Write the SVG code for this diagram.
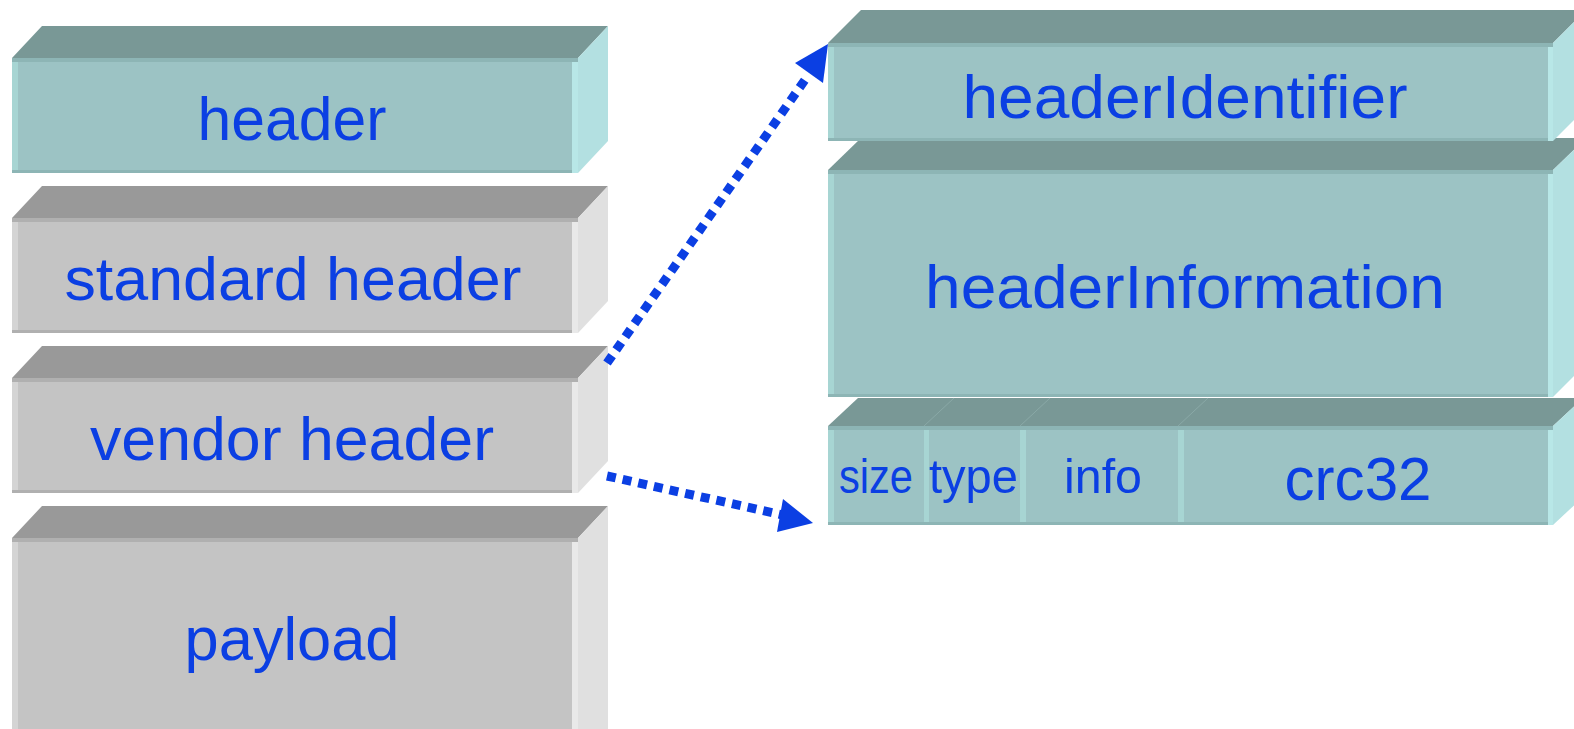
<svg xmlns="http://www.w3.org/2000/svg" width="1574" height="729" viewBox="0 0 1574 729">
<style>
.tt{fill:#799896}.tf{fill:#9cc3c4}.ts{fill:#b3e0e1}.tts{fill:#8db5b5}.tls{fill:#a7d5d3}.trs{fill:#b8e7e7}
.gt{fill:#999999}.gf{fill:#c4c4c4}.gs{fill:#e0e0e0}.gts{fill:#b0b0b0}.gls{fill:#d4d4d4}.grs{fill:#e9e9e9}
.lbl{font-family:"Liberation Sans",Arial,sans-serif;fill:#0b3fe3;text-anchor:middle}
.big{font-size:62px}.small{font-size:49px}
.dot{fill:none;stroke:#0b3fe3;stroke-width:9;stroke-dasharray:9 7}
.head{fill:#0b3fe3}
.div{stroke:#8aa9a7;stroke-width:1;fill:none}
</style>
<rect width="1574" height="729" fill="#ffffff"/>

<g id="node-header">
<polygon class="tt" points="12,58 42,26 608,26 578,58"/>
<polygon class="ts" points="578,58 608,26 608,141 578,173"/>
<rect class="tf" x="12" y="58" width="566" height="115"/>
<rect class="tts" x="12" y="58" width="566" height="4"/>
<rect class="tls" x="12" y="62" width="6" height="108"/>
<rect class="trs" x="572" y="62" width="6" height="111"/>
<rect class="tts" x="12" y="170" width="560" height="3"/>
<text class="lbl big" x="292" y="140" textLength="189" lengthAdjust="spacingAndGlyphs">header</text>
</g>

<g id="node-standard-header">
<polygon class="gt" points="12,218 42,186 608,186 578,218"/>
<polygon class="gs" points="578,218 608,186 608,301 578,333"/>
<rect class="gf" x="12" y="218" width="566" height="115"/>
<rect class="gts" x="12" y="218" width="566" height="4"/>
<rect class="gls" x="12" y="222" width="6" height="108"/>
<rect class="grs" x="572" y="222" width="6" height="111"/>
<rect class="gts" x="12" y="330" width="560" height="3"/>
<text class="lbl big" x="293" y="300" textLength="457" lengthAdjust="spacingAndGlyphs">standard header</text>
</g>

<g id="node-vendor-header">
<polygon class="gt" points="12,378 42,346 608,346 578,378"/>
<polygon class="gs" points="578,378 608,346 608,461 578,493"/>
<rect class="gf" x="12" y="378" width="566" height="115"/>
<rect class="gts" x="12" y="378" width="566" height="4"/>
<rect class="gls" x="12" y="382" width="6" height="108"/>
<rect class="grs" x="572" y="382" width="6" height="111"/>
<rect class="gts" x="12" y="490" width="560" height="3"/>
<text class="lbl big" x="292" y="460" textLength="404" lengthAdjust="spacingAndGlyphs">vendor header</text>
</g>

<g id="node-payload">
<polygon class="gt" points="12,538 42,506 608,506 578,538"/>
<polygon class="gs" points="578,538 608,506 608,740 578,760"/>
<rect class="gf" x="12" y="538" width="566" height="200"/>
<rect class="gts" x="12" y="538" width="566" height="4"/>
<rect class="gls" x="12" y="542" width="6" height="200"/>
<rect class="grs" x="572" y="542" width="6" height="200"/>
<text class="lbl big" x="292" y="660" textLength="215" lengthAdjust="spacingAndGlyphs">payload</text>
</g>

<g id="node-headerInformation">
<polygon class="tt" points="828,170 861,138 1586,138 1553,170"/>
<polygon class="ts" points="1553,170 1586,138 1586,364 1553,397"/>
<rect class="tf" x="828" y="170" width="725" height="227"/>
<rect class="tts" x="828" y="170" width="725" height="4"/>
<rect class="tls" x="828" y="174" width="6" height="220"/>
<rect class="trs" x="1548" y="174" width="5" height="223"/>
<rect class="tts" x="828" y="394" width="720" height="3"/>
<text class="lbl big" x="1185" y="308" textLength="520" lengthAdjust="spacingAndGlyphs">headerInformation</text>
</g>

<g id="node-headerIdentifier">
<polygon class="tt" points="828,43 861,10 1586,10 1553,43"/>
<polygon class="ts" points="1553,43 1586,10 1586,108 1553,141"/>
<rect class="tf" x="828" y="43" width="725" height="98"/>
<rect class="tts" x="828" y="43" width="725" height="4"/>
<rect class="tls" x="828" y="47" width="6" height="91"/>
<rect class="trs" x="1548" y="47" width="5" height="94"/>
<rect class="tts" x="828" y="138" width="720" height="3"/>
<text class="lbl big" x="1185" y="118" textLength="445" lengthAdjust="spacingAndGlyphs">headerIdentifier</text>
</g>

<g id="node-fields">
<polygon class="tt" points="828,426 858,398 1583,398 1553,426"/>
<polygon class="ts" points="1553,426 1583,398 1583,497 1553,525"/>
<rect class="tf" x="828" y="426" width="725" height="99"/>
<rect class="tts" x="828" y="426" width="725" height="4"/>
<rect class="tts" x="828" y="522" width="720" height="3"/>
<rect class="trs" x="1548" y="430" width="5" height="95"/>
<line class="div" x1="924" y1="426" x2="954" y2="398"/>
<line class="div" x1="1020" y1="426" x2="1050" y2="398"/>
<line class="div" x1="1178" y1="426" x2="1208" y2="398"/>
<g id="node-size">
<rect class="tls" x="828" y="430" width="6" height="92"/>
<text class="lbl small" x="876" y="493" textLength="74" lengthAdjust="spacingAndGlyphs">size</text>
</g>
<g id="node-type">
<rect class="tls" x="924" y="430" width="5" height="92"/>
<text class="lbl small" x="973.5" y="493" textLength="89" lengthAdjust="spacingAndGlyphs">type</text>
</g>
<g id="node-info">
<rect class="tls" x="1020" y="430" width="6" height="92"/>
<text class="lbl small" x="1103" y="493" textLength="78" lengthAdjust="spacingAndGlyphs">info</text>
</g>
<g id="node-crc32">
<rect class="tls" x="1178" y="430" width="6" height="92"/>
<text class="lbl big" x="1358" y="500" textLength="147" lengthAdjust="spacingAndGlyphs">crc32</text>
</g>
</g>

<g id="connectors">
<path class="dot" d="M607,363 L807,77"/>
<polygon class="head" points="828,44 795,63 823,83"/>
<path class="dot" d="M607,476 L783,515"/>
<polygon class="head" points="813,523 783,499 777,532"/>
</g>
</svg>
